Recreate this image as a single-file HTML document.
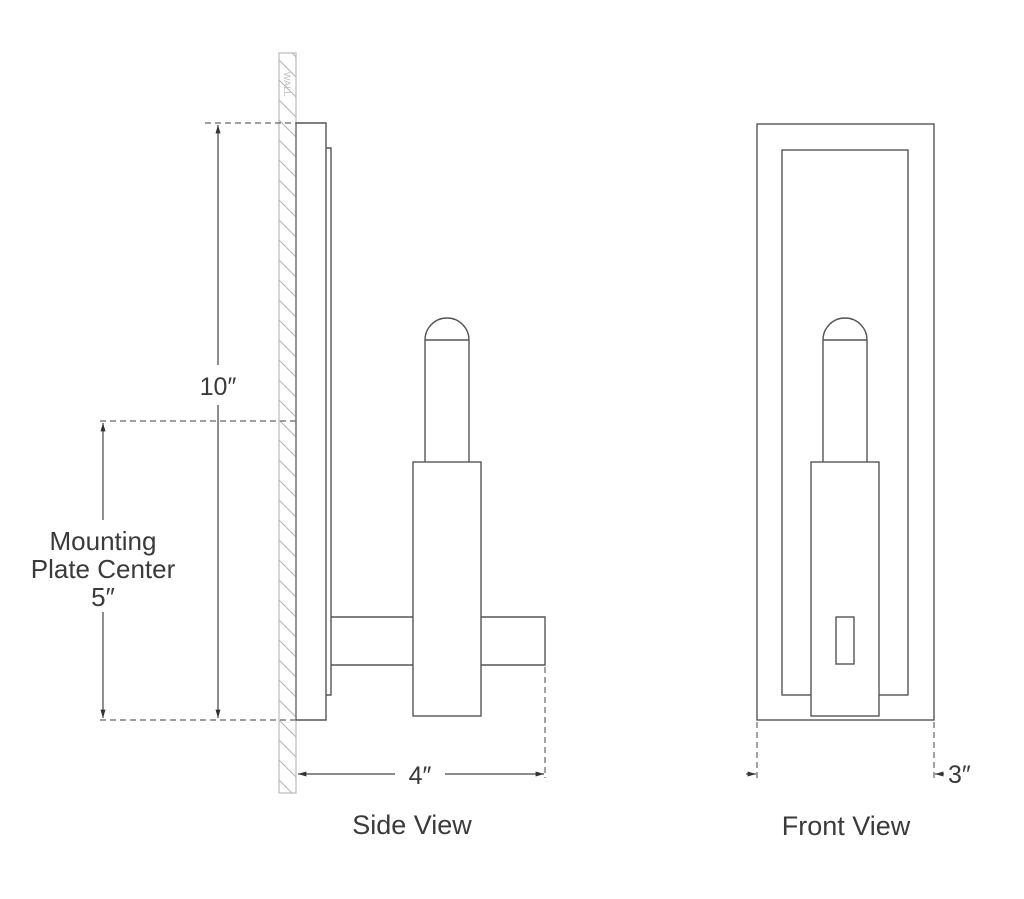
<!DOCTYPE html>
<html><head><meta charset="utf-8"><style>
html,body{margin:0;padding:0;background:#fff;}
svg{display:block;}
text{font-family:"Liberation Sans",sans-serif;fill:#3a3a3a;}
</style></head><body>
<svg width="1024" height="899" viewBox="0 0 1024 899" xmlns="http://www.w3.org/2000/svg">
<defs>
<clipPath id="wc"><rect x="279" y="53" width="17" height="740"/></clipPath>
<marker id="ar" viewBox="0 0 10 10" refX="10" refY="5" markerWidth="7" markerHeight="7" orient="auto-start-reverse"><path d="M0,2 L10,5 L0,8 z" fill="#333"/></marker>
</defs>
<!-- wall -->
<rect x="279" y="53" width="17" height="740" fill="none" stroke="#bbb" stroke-width="1.2"/>
<g clip-path="url(#wc)" stroke="#b5b5b5" stroke-width="1">
<path d="M279,40 l17,17 M279,60 l17,17 M279,80 l17,17 M279,100 l17,17 M279,120 l17,17 M279,140 l17,17 M279,160 l17,17 M279,180 l17,17 M279,200 l17,17 M279,220 l17,17 M279,240 l17,17 M279,260 l17,17 M279,280 l17,17 M279,300 l17,17 M279,320 l17,17 M279,340 l17,17 M279,360 l17,17 M279,380 l17,17 M279,400 l17,17 M279,420 l17,17 M279,440 l17,17 M279,460 l17,17 M279,480 l17,17 M279,500 l17,17 M279,520 l17,17 M279,540 l17,17 M279,560 l17,17 M279,580 l17,17 M279,600 l17,17 M279,620 l17,17 M279,640 l17,17 M279,660 l17,17 M279,680 l17,17 M279,700 l17,17 M279,720 l17,17 M279,740 l17,17 M279,760 l17,17 M279,780 l17,17"/>
</g>
<line x1="296" y1="123" x2="296" y2="720" stroke="#666" stroke-width="1.3"/>
<text x="0" y="0" font-size="9" transform="translate(284,72) rotate(90)" style="fill:#bbb">WALL</text>

<g fill="none" stroke="#555" stroke-width="1.4">
<path d="M296,123 H326 V720 H296"/>
<path d="M326,148 H331 V695 H326"/>
<path d="M331,617 H413 M331,665 H413 M481,617 H545 V665 H481"/>
<rect x="413" y="462" width="68" height="254"/>
<path d="M425,462 V340 A22,22 0 0 1 469,340 V462"/>
<line x1="425" y1="340" x2="469" y2="340"/>
<rect x="757" y="124" width="177" height="596"/>
<rect x="782" y="150" width="126" height="545"/>
<rect x="811" y="462" width="68" height="254" fill="#fff"/>
<path d="M823,462 V340 A22,22 0 0 1 867,340 V462"/>
<line x1="823" y1="340" x2="867" y2="340"/>
<rect x="836" y="617" width="18" height="47"/>
</g>

<g stroke="#666" stroke-width="1.2" fill="none" stroke-dasharray="6,4">
<line x1="205" y1="123" x2="296" y2="123"/>
<line x1="100" y1="421" x2="296" y2="421"/>
<line x1="100" y1="720" x2="296" y2="720"/>
<line x1="545" y1="667" x2="545" y2="778"/>
<line x1="757" y1="722" x2="757" y2="778"/>
<line x1="934" y1="722" x2="934" y2="778"/>
</g>
<g stroke="#444" stroke-width="1.2" fill="none">
<line x1="218" y1="365" x2="218" y2="125" marker-end="url(#ar)"/>
<line x1="218" y1="405" x2="218" y2="718" marker-end="url(#ar)"/>
<line x1="103" y1="520" x2="103" y2="423" marker-end="url(#ar)"/>
<line x1="103" y1="612" x2="103" y2="718" marker-end="url(#ar)"/>
<line x1="395" y1="774" x2="298" y2="774" marker-end="url(#ar)"/>
<line x1="445" y1="774" x2="544" y2="774" marker-end="url(#ar)"/>
<line x1="746" y1="774" x2="756" y2="774" marker-end="url(#ar)"/>
<line x1="944" y1="774" x2="935" y2="774" marker-end="url(#ar)"/>
</g>

<text x="218" y="395" font-size="25" text-anchor="middle">10″</text>
<text x="103" y="550" font-size="26" text-anchor="middle">Mounting</text>
<text x="103" y="578" font-size="26" text-anchor="middle">Plate Center</text>
<text x="103" y="606" font-size="26" text-anchor="middle">5″</text>
<text x="420" y="784" font-size="25" text-anchor="middle">4″</text>
<text x="948" y="783" font-size="25">3″</text>
<text x="412" y="834" font-size="27" text-anchor="middle">Side View</text>
<text x="846" y="835" font-size="27" text-anchor="middle">Front View</text>
</svg>
</body></html>
